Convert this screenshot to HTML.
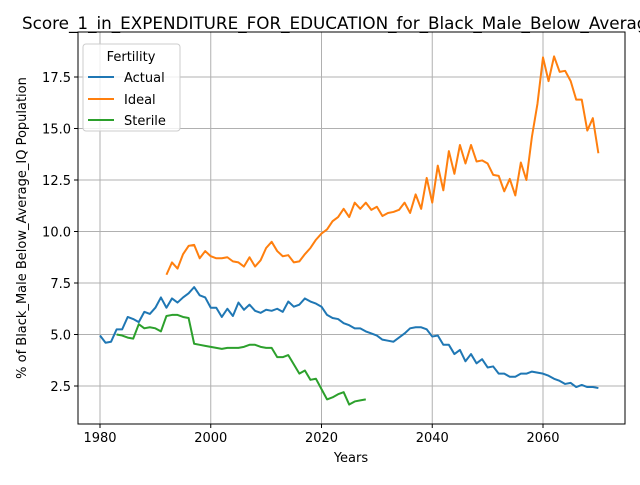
<!DOCTYPE html>
<html><head><meta charset="utf-8"><style>
body{margin:0;background:#fff;}
svg{font-family:"DejaVu Sans","Liberation Sans",sans-serif;}
</style></head><body>
<svg id="chart" width="640" height="480" xmlns="http://www.w3.org/2000/svg">
<rect width="640" height="480" fill="#fff"/>
<text x="22" y="29" font-size="16.8">Score_1_in_EXPENDITURE_FOR_EDUCATION_for_Black_Male_Below_Average_IQ</text>
<g id="grid"></g>
<g id="series"></g>
<rect x="78" y="32" width="547" height="392" fill="none" stroke="#000" stroke-width="1"/>
<g id="ticks" font-size="13"></g>
<text x="351" y="462" font-size="13" text-anchor="middle">Years</text>
<text transform="translate(26,228) rotate(-90)" font-size="13" text-anchor="middle">% of Black_Male Below_Average_IQ Population</text>
<g>
<rect x="83" y="44" width="97" height="87" rx="3" fill="#fff" fill-opacity="0.8" stroke="#ccc"/>
<text x="131" y="61" font-size="13" text-anchor="middle">Fertility</text>
<line x1="88" y1="77" x2="114" y2="77" stroke="#1f77b4" stroke-width="2"/><text x="124" y="82" font-size="13">Actual</text>
<line x1="88" y1="99" x2="114" y2="99" stroke="#ff7f0e" stroke-width="2"/><text x="124" y="104" font-size="13">Ideal</text>
<line x1="88" y1="120" x2="114" y2="120" stroke="#2ca02c" stroke-width="2"/><text x="124" y="125" font-size="13">Sterile</text>
</g>
</svg>
<script>
const actualStart = 1980;
const actualValues = [4.95,4.6,4.65,5.25,5.25,5.85,5.75,5.6,6.1,6.0,6.3,6.8,6.3,6.75,6.55,6.8,7.0,7.3,6.9,6.8,6.3,6.3,5.85,6.25,5.9,6.55,6.2,6.45,6.15,6.05,6.2,6.15,6.25,6.1,6.6,6.35,6.45,6.75,6.6,6.5,6.35,5.95,5.8,5.75,5.55,5.45,5.3,5.3,5.15,5.05,4.95,4.75,4.7,4.65,4.85,5.05,5.3,5.35,5.35,5.25,4.9,4.95,4.5,4.5,4.05,4.25,3.7,4.05,3.6,3.8,3.4,3.45,3.1,3.1,2.95,2.95,3.1,3.1,3.2,3.15,3.1,3.0,2.85,2.75,2.6,2.65,2.45,2.55,2.45,2.45,2.4];
const idealStart = 1992;
const idealValues = [7.9,8.5,8.2,8.9,9.3,9.35,8.7,9.05,8.8,8.7,8.7,8.75,8.55,8.5,8.3,8.75,8.3,8.6,9.2,9.5,9.05,8.8,8.85,8.5,8.55,8.9,9.2,9.6,9.9,10.1,10.5,10.7,11.1,10.7,11.4,11.1,11.4,11.05,11.2,10.75,10.9,10.95,11.05,11.4,10.9,11.8,11.1,12.6,11.4,13.2,12.0,13.9,12.8,14.2,13.3,14.2,13.4,13.45,13.3,12.75,12.7,11.95,12.55,11.75,13.35,12.5,14.6,16.2,18.45,17.3,18.5,17.75,17.8,17.3,16.4,16.4,14.9,15.5,13.8];
const sterileStart = 1983;
const sterileValues = [5.0,4.95,4.85,4.8,5.5,5.3,5.35,5.3,5.15,5.9,5.95,5.95,5.85,5.8,4.55,4.5,4.45,4.4,4.35,4.3,4.35,4.35,4.35,4.4,4.5,4.5,4.4,4.35,4.35,3.9,3.9,4.0,3.55,3.1,3.25,2.8,2.85,2.35,1.85,1.95,2.1,2.2,1.6,1.75,1.8,1.85];
const xTicks = [1980,2000,2020,2040,2060];
const yTicks = [2.5,5.0,7.5,10.0,12.5,15.0,17.5];

const NS = "http://www.w3.org/2000/svg";
function xs(v){ return 100 + (v - 1980) * (443 / 80); }
function ys(v){ return 386 - (v - 2.5) * (309 / 15); }
function mk(tag, attrs, parent){ const e = document.createElementNS(NS, tag); for (const k in attrs) e.setAttribute(k, attrs[k]); parent.appendChild(e); return e; }
const grid = document.getElementById('grid'), ticks = document.getElementById('ticks'), series = document.getElementById('series');
xTicks.forEach(t => {
  const x = xs(t);
  const g = mk('line', {x1:x, x2:x, y1:32, y2:424, stroke:'#b0b0b0', 'stroke-width':1}, grid);
  
  
  mk('line', {x1:x, x2:x, y1:424, y2:428, stroke:'#000'}, ticks);
  const l = mk('text', {x:x, y:442, 'text-anchor':'middle'}, ticks);
  l.textContent = t;
  
  
});
yTicks.forEach(t => {
  const y = ys(t);
  const g = mk('line', {x1:78, x2:625, y1:y, y2:y, stroke:'#b0b0b0', 'stroke-width':1}, grid);
  
  
  mk('line', {x1:74, x2:78, y1:y, y2:y, stroke:'#000'}, ticks);
  const l = mk('text', {x:71, y:y + 5, 'text-anchor':'end'}, ticks);
  l.textContent = t.toFixed(1);
  
  
});
function line(start, vals, color, name){
  const pts = vals.map((v, i) => xs(start + i).toFixed(2) + ',' + ys(v).toFixed(2)).join(' ');
  const p = mk('polyline', {points:pts, fill:'none', stroke:color, 'stroke-width':2, 'stroke-linejoin':'round'}, series);
  
  
}
line(actualStart, actualValues, '#1f77b4', 'actual-line');
line(idealStart, idealValues, '#ff7f0e', 'ideal-line');
line(sterileStart, sterileValues, '#2ca02c', 'sterile-line');
</script>
</body></html>
